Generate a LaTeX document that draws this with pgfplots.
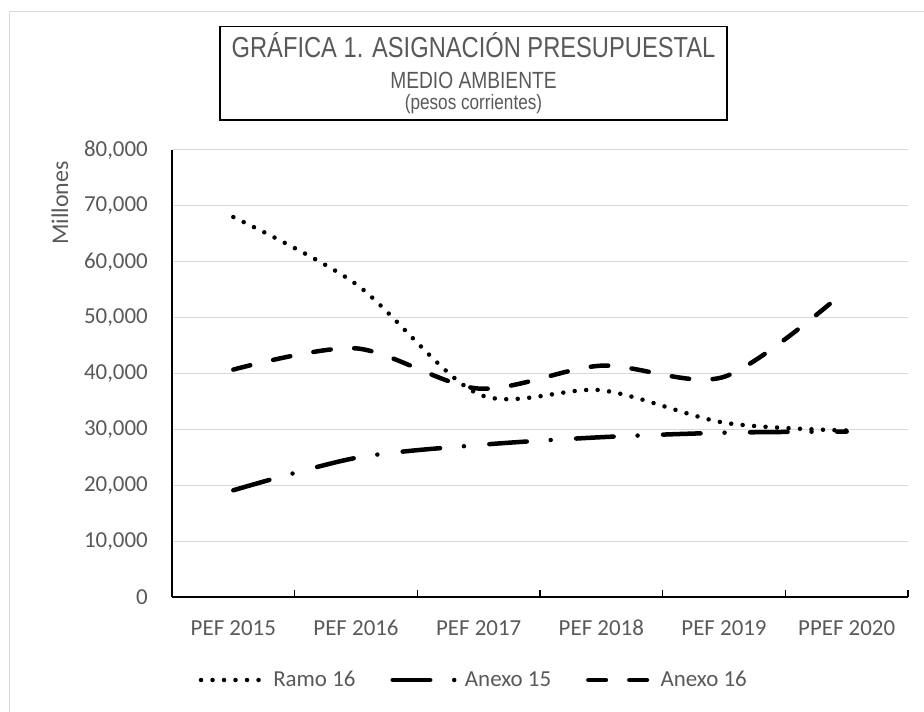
\documentclass[border=0pt]{standalone}
\usepackage{fontspec}
\setmainfont{Carlito}
\newfontfamily\narrowfont[FakeStretch=0.82]{Liberation Sans}
\usepackage{pgfplots}
\pgfplotsset{compat=1.18}
\definecolor{txt}{HTML}{595959}
\definecolor{grd}{HTML}{D9D9D9}
\begin{document}
\begin{tikzpicture}[x=1bp,y=1bp]
\path[use as bounding box] (0,0) rectangle (924,712);
\draw[grd, line width=1bp] (9,0) -- (9,700) -- (924,700);
\draw[black, line width=1.6bp] (220,685.3) rectangle (727,592);
\node[text=txt, font=\narrowfont\fontsize{29}{29}\selectfont, anchor=base] at (473.5,654) {GRÁFICA 1. ASIGNACIÓN PRESUPUESTAL};
\node[text=txt, font=\narrowfont\fontsize{23.5}{23.5}\selectfont, anchor=base] at (473.5,623) {MEDIO AMBIENTE};
\node[text=txt, font=\narrowfont\fontsize{21}{21}\selectfont, anchor=base] at (473.5,602) {(pesos corrientes)};
\begin{axis}[
  at={(172bp,115bp)}, anchor=south west, scale only axis,
  width=736bp, height=447bp,
  xmin=-0.5, xmax=5.5, ymin=0, ymax=80000,
  xtick={0,...,5},
  xticklabels={PEF 2015,PEF 2016,PEF 2017,PEF 2018,PEF 2019,PPEF 2020},
  major x tick style={draw=none},
  minor xtick={0.5,1.5,2.5,3.5,4.5,5.5},
  minor x tick style={black, line width=1.3bp},
  minor tick length=7bp,
  xtick align=inside,
  ytick={0,10000,...,80000},
  major y tick style={draw=none},
  ymajorgrids, grid style={grd, line width=1bp},
  axis x line*=bottom, axis y line*=left,
  axis line style={black, line width=1.3bp, -},
  scaled y ticks=false,
  /pgf/number format/.cd, fixed, 1000 sep={,}, assume math mode=true, /pgfplots/.cd,
  tick label style={font=\fontsize{23}{23}\selectfont, text=txt},
  yticklabel style={anchor=east, inner sep=0pt, xshift=-24bp},
  xticklabel style={anchor=north, inner sep=0pt, yshift=-23bp},
  ylabel={Millones},
  every axis y label/.style={at={(axis description cs:-0.1522,0.8814)}, anchor=center, rotate=90, font=\fontsize{24}{24}\selectfont, text=txt},
  legend columns=3,
  legend style={at={(axis description cs:0.41,-0.1857)}, anchor=center, draw=none, fill=none,
    font=\fontsize{23}{23}\selectfont, text=txt,
    /tikz/every even column/.append style={column sep=33bp}},
  legend image code/.code={\draw[#1] (0bp,0bp) -- (68bp,0bp);},
]
\addplot[black, line width=4.5bp, line cap=round, smooth, tension=0.5, dash pattern=on 0bp off 11.5bp]
  coordinates {(0,68000) (1,56000) (2,36300) (3,37000) (4,31200) (5,29800)};
\addlegendentry{Ramo 16}
\addplot[black, line width=4.5bp, line cap=round, smooth, tension=0.5, dash pattern=on 37.5bp off 24bp on 0bp off 25.5bp]
  coordinates {(0,19100) (1,24900) (2,27200) (3,28600) (4,29400) (5,29600)};
\addlegendentry{Anexo 15}
\addplot[black, line width=4.5bp, line cap=round, smooth, tension=0.5, dash pattern=on 17.5bp off 23.5bp]
  coordinates {(0,40700) (1,44500) (2,37300) (3,41400) (4,39400) (5,55000)};
\addlegendentry{Anexo 16}
\end{axis}
\end{tikzpicture}
\end{document}
